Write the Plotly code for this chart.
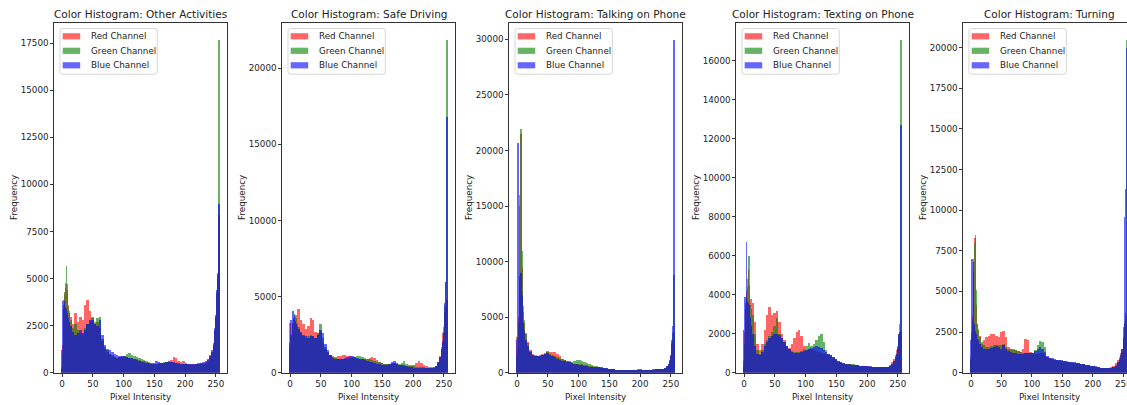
import plotly.graph_objects as go

W, H = 1127, 405

# Intensity bins: single levels near black, 4-level groups through the
# mid-tones, then 2-level and single levels approaching saturation.
BIN_LOW = list(range(0, 12)) + list(range(12, 244, 4)) + [244, 246, 248] + list(range(250, 256))
BIN_HIGH = BIN_LOW[1:] + [256]

CATEGORIES = ["Other Activities", "Safe Driving", "Talking on Phone", "Texting on Phone", "Turning"]
CHANNELS = ["Red Channel", "Green Channel", "Blue Channel"]
X_TICKS = [0, 50, 100, 150, 200, 250]
Y_TICK_STEP = [2500, 5000, 5000, 2000, 2500]

# Pixel counts per bin (frequency per intensity level)
other_red = [300, 1500, 3000, 3600, 3800, 4200, 4500, 4700, 4400, 4000, 3600, 3300,
             3000, 2600, 3200, 2700, 3000, 2800, 3600, 3900, 3300, 3000,
             2600, 2700, 2400, 1700, 1300, 1100, 1000, 900, 850, 800,
             850, 900, 850, 850, 800, 800, 750, 750, 700, 650,
             650, 600, 550, 550, 500, 500, 550, 550, 550, 600,
             650, 700, 850, 800, 650, 600, 650, 550, 500, 480,
             480, 480, 500, 520, 550, 600, 700, 900,
             1100, 1500, 2300, 3000, 3500, 4200, 5000, 6500, 8400]
other_green = [200, 1000, 2500, 3400, 3800, 4300, 4800, 5700, 4700, 4000, 3500, 3200,
               2800, 2400, 2600, 2300, 2100, 2000, 2400, 2600, 2700, 2900,
               2700, 2900, 3000, 1800, 1400, 1200, 1000, 950, 850, 800,
               850, 850, 900, 1000, 1050, 950, 900, 850, 800, 750,
               700, 650, 600, 550, 500, 500, 550, 550, 600, 600,
               650, 600, 550, 550, 500, 500, 480, 470, 460, 450,
               450, 460, 470, 480, 500, 550, 650, 850,
               1100, 1500, 2300, 3000, 3600, 4300, 5200, 6000, 17700]
other_blue = [1200, 3800, 3900, 3800, 3600, 3500, 3400, 3300, 3200, 3000, 2900, 2700,
              2500, 2200, 2000, 2100, 2300, 2100, 2300, 2600, 2800, 2800,
              2600, 2500, 2800, 2000, 1500, 1300, 1200, 1100, 1000, 950,
              900, 900, 900, 850, 800, 800, 750, 700, 650, 600,
              600, 550, 550, 500, 550, 650, 600, 550, 550, 600,
              600, 600, 600, 550, 550, 500, 500, 500, 500, 500,
              500, 500, 550, 550, 600, 650, 750, 950,
              1200, 1600, 2400, 3100, 3700, 4400, 5300, 5800, 9000]

safe_red = [3300, 2500, 1500, 2000, 2800, 3200, 3500, 3300, 3400, 3600, 3800, 3600,
            4200, 3500, 3200, 2900, 3100, 3600, 3500, 2700, 2600, 2700,
            2000, 1600, 1400, 1200, 1100, 1050, 1100, 1150, 1200, 1200,
            1150, 1100, 1050, 1000, 950, 950, 900, 900, 950, 1000,
            1050, 1000, 850, 700, 650, 600, 600, 600, 600, 650,
            600, 550, 500, 450, 450, 450, 500, 550, 650, 800,
            650, 500, 450, 400, 380, 400, 480, 700,
            1100, 1700, 2600, 3000, 3500, 4000, 4300, 4500, 4800]
safe_green = [1500, 2500, 2000, 2500, 3000, 3300, 3600, 3900, 3700, 3500, 3600, 3300,
              3000, 2600, 2400, 2300, 2400, 2500, 2400, 2300, 2600, 3200,
              2300, 1700, 1400, 1200, 1050, 1000, 950, 950, 950, 950,
              950, 1000, 1050, 1050, 1100, 1100, 1050, 1000, 950, 900,
              850, 800, 750, 700, 650, 600, 600, 600, 650, 650,
              600, 600, 650, 800, 600, 500, 450, 450, 420, 400,
              380, 370, 360, 350, 350, 380, 450, 650,
              1000, 1500, 2000, 2600, 3300, 4500, 6000, 9300, 21900]
safe_blue = [2000, 3500, 2800, 3000, 3500, 4100, 3800, 3600, 3400, 3300, 3200, 3000,
             2900, 2700, 2500, 2400, 2300, 2400, 2400, 2300, 2500, 2800,
             2600, 1900, 1500, 1200, 1000, 950, 900, 900, 950, 1000,
             1050, 1100, 1100, 1050, 1000, 950, 900, 850, 800, 750,
             700, 650, 600, 600, 550, 550, 550, 600, 700, 800,
             650, 550, 500, 500, 450, 400, 380, 360, 350, 340,
             330, 320, 310, 310, 320, 350, 450, 700,
             1050, 1600, 2100, 2700, 3400, 4600, 6000, 7700, 16800]

talking_red = [3200, 2500, 3000, 5000, 9000, 16000, 21500, 17300, 9500, 7000, 5500, 4500,
               3600, 2800, 2100, 1700, 1600, 1550, 1650, 1750, 1800, 1950,
               1900, 1850, 1850, 1700, 1500, 1300, 1150, 1050, 950, 900,
               850, 850, 850, 800, 750, 700, 650, 600, 550, 500,
               500, 500, 450, 400, 350, 330, 320, 300, 300, 280,
               270, 300, 260, 240, 230, 250, 260, 250, 240, 250,
               260, 280, 300, 380, 350, 340, 380, 450,
               600, 800, 1100, 1500, 2000, 2600, 3000, 3400, 3700]
talking_green = [1500, 2000, 2800, 4500, 8000, 15000, 22000, 15500, 11000, 8000, 6000, 4800,
                 3500, 2700, 2000, 1600, 1500, 1500, 1550, 1650, 1700, 1850,
                 1750, 1600, 1500, 1450, 1350, 1250, 1150, 1100, 1050, 1000,
                 1050, 1150, 1200, 1100, 1000, 900, 800, 700, 650, 600,
                 550, 500, 450, 420, 380, 350, 330, 310, 300, 280,
                 270, 260, 250, 240, 240, 250, 260, 260, 250, 250,
                 260, 280, 300, 360, 340, 330, 380, 450,
                 600, 800, 1100, 1500, 2000, 2700, 3600, 5000, 8800]
talking_blue = [3000, 20700, 15500, 8700, 7000, 8500, 9000, 8500, 7000, 5500, 4500, 3800,
                3000, 2400, 1900, 1650, 1550, 1500, 1550, 1650, 1700, 1800,
                1650, 1500, 1400, 1300, 1200, 1100, 1050, 1000, 950, 900,
                850, 800, 750, 700, 650, 600, 580, 560, 540, 520,
                500, 480, 450, 420, 380, 350, 330, 310, 300, 290,
                280, 270, 260, 260, 270, 300, 350, 330, 290, 270,
                280, 300, 320, 400, 380, 360, 400, 480,
                650, 850, 1150, 1600, 2200, 3000, 4200, 5900, 30000]

texting_red = [600, 2100, 3200, 3600, 3700, 4200, 4800, 5300, 4500, 3900, 3500, 3800,
               3600, 2600, 1500, 1200, 1500, 2200, 3000, 3400, 3000, 3100,
               3200, 2600, 2000, 1700, 1400, 1300, 1500, 1800, 2100, 2200,
               1900, 1400, 1200, 1250, 1250, 1200, 1150, 1100, 1050, 1000,
               950, 900, 850, 750, 650, 550, 500, 480, 460, 450,
               440, 420, 400, 390, 380, 370, 360, 340, 330, 320,
               310, 300, 300, 300, 310, 330, 400, 550,
               700, 900, 1200, 1400, 1600, 1800, 2000, 2100, 2100]
texting_green = [300, 1500, 2800, 3300, 3600, 3900, 4400, 4800, 6000, 4500, 3500, 3300,
                 3000, 2000, 1200, 1000, 1200, 1500, 1700, 1900, 2100, 2400,
                 2800, 2000, 1800, 1600, 1400, 1250, 1150, 1100, 1100, 1100,
                 1150, 1250, 1400, 1550, 1400, 1500, 1700, 1900, 2000, 1600,
                 1200, 1000, 900, 800, 700, 600, 550, 500, 480, 470,
                 460, 450, 430, 400, 380, 360, 340, 330, 320, 310,
                 300, 300, 300, 300, 300, 320, 360, 450,
                 600, 800, 1000, 1300, 1600, 2000, 2500, 3500, 17100]
texting_blue = [2200, 3900, 3800, 3700, 6700, 3700, 3600, 3600, 3500, 3300, 2800, 2400,
                2000, 1400, 1000, 900, 1100, 1400, 1600, 1800, 1900, 2000,
                2000, 1950, 1800, 1600, 1400, 1250, 1100, 1050, 1050, 1050,
                1100, 1150, 1200, 1250, 1300, 1350, 1400, 1350, 1300, 1200,
                1100, 1000, 900, 800, 700, 620, 560, 500, 470, 450,
                430, 420, 400, 390, 380, 370, 360, 350, 340, 330,
                320, 310, 300, 300, 310, 330, 380, 480,
                600, 800, 1000, 1300, 1600, 2000, 2100, 11400, 12700]

turning_red = [1000, 1500, 2500, 3500, 5000, 7000, 8300, 6000, 4200, 3300, 3000, 2600,
               2300, 1800, 2000, 2200, 2300, 2400, 2400, 2300, 2200, 2500,
               2600, 2200, 1600, 1500, 1450, 1400, 1350, 1300, 1500, 2100,
               2000, 1300, 1200, 1150, 1150, 1200, 1200, 1100, 1000, 900,
               850, 800, 780, 760, 740, 700, 680, 660, 640, 620,
               600, 580, 560, 540, 500, 480, 450, 420, 400, 380,
               330, 300, 300, 310, 350, 450, 600, 800,
               1000, 1200, 1500, 1800, 2200, 2600, 3000, 3300, 3500]
turning_green = [800, 1200, 2200, 3200, 4500, 6300, 8000, 8500, 5100, 3500, 3000, 2700,
                 2200, 1900, 1700, 1600, 1600, 1650, 1700, 1750, 1700, 1700,
                 1800, 1600, 1500, 1450, 1400, 1400, 1350, 1300, 1250, 1200,
                 1200, 1200, 1250, 1400, 1700, 1950, 1900, 1600, 1000, 900,
                 850, 820, 800, 780, 750, 720, 700, 680, 650, 630,
                 620, 600, 580, 560, 520, 500, 460, 430, 400, 370,
                 330, 300, 300, 300, 320, 380, 480, 650,
                 800, 1000, 1300, 1700, 2100, 2600, 3100, 3700, 20500]
turning_blue = [2000, 4100, 7000, 6800, 4000, 3000, 2600, 2500, 2400, 2300, 2100, 2000,
                1800, 1600, 1500, 1450, 1500, 1550, 1600, 1650, 1600, 1500,
                1700, 1500, 1350, 1300, 1250, 1200, 1150, 1150, 1150, 1200,
                1200, 1200, 1200, 1350, 1500, 1600, 1500, 1300, 1050, 950,
                900, 850, 820, 800, 780, 750, 720, 700, 680, 650,
                620, 600, 570, 540, 510, 480, 450, 430, 410, 380,
                330, 300, 300, 300, 310, 350, 450, 650,
                850, 1100, 1500, 2000, 2800, 3800, 9600, 11300, 20000]

SERIES = [
    (other_red, other_green, other_blue),
    (safe_red, safe_green, safe_blue),
    (talking_red, talking_green, talking_blue),
    (texting_red, texting_green, texting_blue),
    (turning_red, turning_green, turning_blue),
]
for group in SERIES:
    for vals in group:
        assert len(vals) == len(BIN_LOW)

# ---- layout constants (pixels) ----
AX_LEFT = [54.3, 282.3, 509.3, 736.3, 963.3]
AX_WIDTH = 172.5
AX_TOP, AX_BOTTOM = 22.7, 372.7
X_RANGE = [-12.75, 267.75]
LAST_X_END = 256.0
COLORS = ["red", "green", "blue"]
FONT = "DejaVu Sans"
TXT = "#222222"


def px(x):
    return x / W


def py(y):
    return 1 - y / H


centers = [(lo + hi) / 2 for lo, hi in zip(BIN_LOW, BIN_HIGH)]
widths = [hi - lo for lo, hi in zip(BIN_LOW, BIN_HIGH)]

fig = go.Figure()
shapes, annotations = [], []

for i, (cat, group) in enumerate(zip(CATEGORIES, SERIES)):
    n = i + 1
    xref = "x" if n == 1 else f"x{n}"
    yref = "y" if n == 1 else f"y{n}"
    for name, vals, col in zip(CHANNELS, group, COLORS):
        fig.add_trace(go.Bar(
            x=centers, y=vals, width=widths, name=name,
            marker=dict(color=col, line=dict(width=0)),
            opacity=0.6, xaxis=xref, yaxis=yref, showlegend=False,
            hovertemplate=f"{name}<br>%{{x}}: %{{y}}<extra></extra>",
        ))

    left = AX_LEFT[i]
    last = n == len(CATEGORIES)
    right = W if last else left + AX_WIDTH
    ymax = max(max(v) for v in group) * 1.05

    axis_common = dict(
        showline=True, linecolor="#333333", linewidth=1,
        ticks="outside", ticklen=3, tickwidth=1, tickcolor="#333333",
        tickfont=dict(family=FONT, size=8.75, color=TXT),
        showgrid=False, zeroline=False, automargin=False,
    )
    xa = dict(axis_common, domain=[px(left), px(right)], anchor=yref,
              range=[X_RANGE[0], LAST_X_END if last else X_RANGE[1]],
              tickmode="array", tickvals=X_TICKS, mirror=True)
    if last:
        xa["ticklabeloverflow"] = "allow"
    ya = dict(axis_common, domain=[py(AX_BOTTOM), py(AX_TOP)], anchor=xref,
              range=[0, ymax], tick0=0, dtick=Y_TICK_STEP[i], tickformat="d",
              mirror=not last)
    fig.update_layout(**{("xaxis" if n == 1 else f"xaxis{n}"): xa,
                         ("yaxis" if n == 1 else f"yaxis{n}"): ya})

    cx = left + AX_WIDTH / 2
    annotations.append(dict(text=f"Color Histogram: {cat}", x=px(cx), y=py(14),
                            xref="paper", yref="paper", showarrow=False,
                            xanchor="center", yanchor="middle",
                            font=dict(family=FONT, size=10.5, color=TXT)))
    annotations.append(dict(text="Pixel Intensity", x=px(cx), y=py(396.5),
                            xref="paper", yref="paper", showarrow=False,
                            xanchor="center", yanchor="middle",
                            font=dict(family=FONT, size=8.75, color=TXT)))
    annotations.append(dict(text="Frequency", x=px(left - 41), y=py((AX_TOP + AX_BOTTOM) / 2),
                            xref="paper", yref="paper", showarrow=False, textangle=-90,
                            xanchor="center", yanchor="middle",
                            font=dict(family=FONT, size=8.75, color=TXT)))

    # legend box
    fx0, fx1 = left + 5.7, left + 103
    fy0, fy1 = AX_TOP + 5.8, AX_TOP + 51.5
    r = 2.5
    rx, ry = r / W, r / H
    X0, X1, Y0, Y1 = px(fx0), px(fx1), py(fy1), py(fy0)
    path = (f"M {X0 + rx},{Y0} L {X1 - rx},{Y0} Q {X1},{Y0} {X1},{Y0 + ry} "
            f"L {X1},{Y1 - ry} Q {X1},{Y1} {X1 - rx},{Y1} "
            f"L {X0 + rx},{Y1} Q {X0},{Y1} {X0},{Y1 - ry} "
            f"L {X0},{Y0 + ry} Q {X0},{Y0} {X0 + rx},{Y0} Z")
    shapes.append(dict(type="path", path=path, xref="paper", yref="paper",
                       fillcolor="rgba(255,255,255,0.8)",
                       line=dict(color="rgba(204,204,204,0.8)", width=1)))
    for k, (name, col) in enumerate(zip(CHANNELS, COLORS)):
        rowy = AX_TOP + 13.6 + k * 14.5
        shapes.append(dict(type="rect", xref="paper", yref="paper",
                           x0=px(left + 8.4), x1=px(left + 25.9),
                           y0=py(rowy + 3.1), y1=py(rowy - 3.1),
                           fillcolor=col, opacity=0.6, line=dict(width=0)))
        annotations.append(dict(text=name, x=px(left + 34.5), y=py(rowy),
                                xref="paper", yref="paper", showarrow=False,
                                xanchor="left", yanchor="middle",
                                font=dict(family=FONT, size=8.75, color=TXT)))

fig.update_layout(
    width=W, height=H,
    margin=dict(l=0, r=0, t=0, b=0),
    paper_bgcolor="white", plot_bgcolor="white",
    barmode="overlay", bargap=0,
    shapes=shapes, annotations=annotations,
    font=dict(family=FONT, color=TXT),
)

fig.write_html("out.html", config={"displayModeBar": False})
